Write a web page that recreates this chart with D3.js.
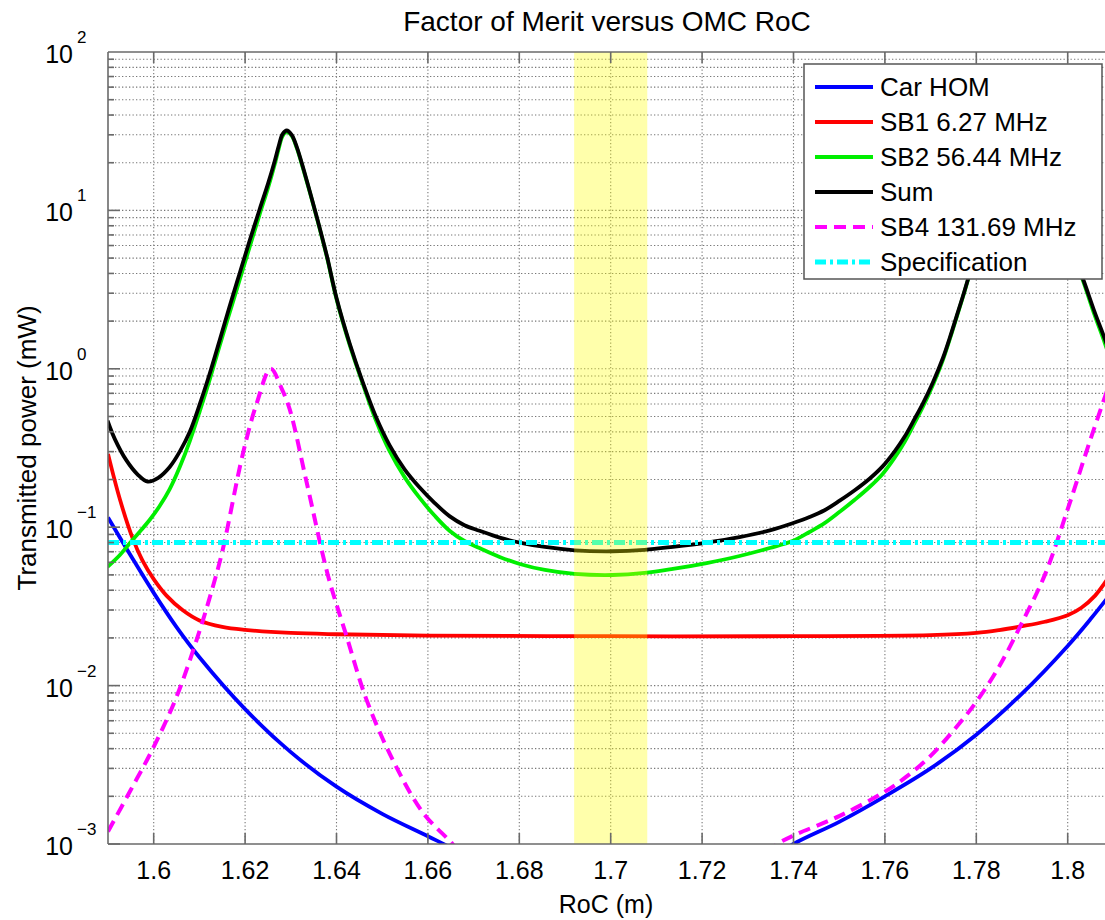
<!DOCTYPE html>
<html>
<head>
<meta charset="utf-8">
<script src="https://cdn.jsdelivr.net/npm/d3@7"></script>
<style>
  body { margin: 0; background: #fff; }
  text { font-family: "Liberation Sans", Arial, Helvetica, sans-serif; fill: #000; }
</style>
</head>
<body>
<div id="chart"></div>
<script>
// values: [RoC (m), transmitted power (mW)]
var carHom = [
  [1.59, 0.115], [1.595, 0.066], [1.60, 0.0385], [1.605, 0.0234], [1.61, 0.0151],
  [1.62, 0.0071], [1.63, 0.0038], [1.64, 0.0023], [1.65, 0.00155], [1.66, 0.00112],
  [1.665, 0.00095], [1.68, 0.0006], [1.70, 0.0004], [1.72, 0.0005], [1.735, 0.0008],
  [1.74, 0.001], [1.75, 0.00138], [1.76, 0.0020], [1.77, 0.0030], [1.78, 0.0049],
  [1.79, 0.0089], [1.80, 0.0178], [1.805, 0.0263], [1.81, 0.040]
];
var sb1 = [
  [1.59, 0.29], [1.5926, 0.15], [1.5954, 0.085], [1.5975, 0.062], [1.60, 0.047],
  [1.6028, 0.037], [1.6063, 0.030], [1.61, 0.0258], [1.615, 0.0235], [1.62, 0.0225],
  [1.63, 0.0215], [1.64, 0.0211], [1.66, 0.0207], [1.70, 0.0205], [1.74, 0.0205],
  [1.77, 0.0208], [1.78, 0.0215], [1.785, 0.0224], [1.79, 0.0237], [1.795, 0.0253],
  [1.80, 0.0278], [1.803, 0.031], [1.806, 0.037], [1.808, 0.044], [1.81, 0.054]
];
var sb2 = [
  [1.5899, 0.0561], [1.5926, 0.0667], [1.5948, 0.0795], [1.5969, 0.0933], [1.5991, 0.111],
  [1.6013, 0.136], [1.6035, 0.174], [1.6057, 0.240], [1.6079, 0.350], [1.6101, 0.542],
  [1.6123, 0.863], [1.6144, 1.39], [1.6166, 2.25], [1.6188, 3.64], [1.621, 5.87],
  [1.6232, 9.48], [1.625, 13.8], [1.6265, 19.6], [1.6274, 24.8], [1.6282, 29.5],
  [1.6291, 31.3], [1.6302, 29.5], [1.6313, 24.8], [1.6324, 19.6], [1.6341, 13.2],
  [1.6357, 8.96], [1.6379, 5.08], [1.64, 2.76], [1.6429, 1.41], [1.6457, 0.813],
  [1.6486, 0.475], [1.6516, 0.303], [1.6549, 0.207], [1.6582, 0.153], [1.6615, 0.118],
  [1.6648, 0.0946], [1.668, 0.0818], [1.6713, 0.0739], [1.6757, 0.0649], [1.6801, 0.0586],
  [1.6856, 0.0537], [1.6921, 0.0507], [1.7004, 0.0499], [1.7074, 0.0514], [1.7136, 0.0545],
  [1.721, 0.0594], [1.7282, 0.0658], [1.7348, 0.0739], [1.7398, 0.0818], [1.7435, 0.0933],
  [1.7468, 0.106], [1.7501, 0.125], [1.7534, 0.149], [1.7567, 0.180], [1.7595, 0.217],
  [1.7621, 0.274], [1.7643, 0.345], [1.7665, 0.455], [1.7683, 0.574], [1.7705, 0.791],
  [1.7727, 1.14], [1.7742, 1.54], [1.7757, 2.12], [1.777, 2.80], [1.7781, 3.58],
  [1.7807, 6.5], [1.7851, 15.6], [1.7886, 24], [1.7906, 27.8], [1.7928, 24],
  [1.7961, 15.6], [1.80, 6.5], [1.8033, 3.63], [1.8059, 2.18], [1.8081, 1.46], [1.8101, 0.98]
];
var sum = [
  [1.5899, 0.47], [1.5915, 0.36], [1.594, 0.265], [1.5965, 0.215], [1.5987, 0.194],
  [1.601, 0.205], [1.6035, 0.24], [1.6057, 0.30], [1.6079, 0.40], [1.6101, 0.60],
  [1.6123, 0.94], [1.6144, 1.5], [1.6166, 2.47], [1.6188, 4.0], [1.621, 6.45],
  [1.6232, 10.2], [1.625, 14.7], [1.6265, 20.6], [1.6274, 25.8], [1.6282, 30.3],
  [1.6291, 31.95], [1.6302, 30.0], [1.6313, 25.2], [1.6324, 19.9], [1.6341, 13.35],
  [1.6357, 9.06], [1.6379, 5.15], [1.64, 2.8], [1.6429, 1.44], [1.6457, 0.83],
  [1.6486, 0.50], [1.6516, 0.33], [1.6549, 0.232], [1.6582, 0.178], [1.6615, 0.142],
  [1.6648, 0.117], [1.668, 0.103], [1.6713, 0.095], [1.6757, 0.086], [1.6801, 0.080],
  [1.6856, 0.075], [1.6921, 0.0715], [1.7004, 0.0705], [1.7074, 0.072], [1.7136, 0.0752],
  [1.721, 0.080], [1.7282, 0.0866], [1.7348, 0.0955], [1.7398, 0.106], [1.7435, 0.116],
  [1.7468, 0.128], [1.7501, 0.147], [1.7534, 0.171], [1.7567, 0.203], [1.7595, 0.242],
  [1.7621, 0.30], [1.7643, 0.372], [1.7665, 0.483], [1.7683, 0.603], [1.7705, 0.82],
  [1.7727, 1.17], [1.7742, 1.57], [1.7757, 2.15], [1.777, 2.83], [1.7781, 3.61],
  [1.7807, 6.5], [1.7851, 15.6], [1.7886, 24], [1.7906, 27.8], [1.7928, 24],
  [1.7961, 15.6], [1.80, 6.6], [1.8033, 3.73], [1.8059, 2.28], [1.8081, 1.55], [1.8101, 1.07]
];
var sb4 = [
  [1.59, 0.0012], [1.595, 0.0022], [1.60, 0.0041], [1.605, 0.0085], [1.61, 0.022],
  [1.6125, 0.038], [1.615, 0.07], [1.6195, 0.29], [1.6225, 0.6], [1.6256, 1.0],
  [1.628, 0.75], [1.6298, 0.55], [1.6335, 0.19], [1.6381, 0.05], [1.6422, 0.0205],
  [1.6466, 0.0081], [1.6523, 0.0034], [1.6589, 0.00158], [1.6654, 0.001], [1.67, 0.0007],
  [1.70, 0.0003], [1.73, 0.0007], [1.7365, 0.001], [1.7403, 0.00114], [1.75, 0.0015],
  [1.76, 0.00214], [1.765, 0.0027], [1.77, 0.0036], [1.775, 0.0052], [1.78, 0.0079],
  [1.785, 0.0132], [1.79, 0.025], [1.795, 0.050], [1.80, 0.13], [1.805, 0.36], [1.81, 0.95]
];
var specLevel = 0.08;
var specRange = [1.59, 1.81];
var band = [1.692, 1.708];

var xTicks = [1.6, 1.62, 1.64, 1.66, 1.68, 1.7, 1.72, 1.74, 1.76, 1.78, 1.8];
var xTickLabels = ["1.6", "1.62", "1.64", "1.66", "1.68", "1.7", "1.72", "1.74", "1.76", "1.78", "1.8"];
var yExponents = [-3, -2, -1, 0, 1, 2];

var legendNames = ["Car HOM", "SB1 6.27 MHz", "SB2 56.44 MHz", "Sum", "SB4 131.69 MHz", "Specification"];

// draw order follows the legend
var series = [
  { name: legendNames[0], data: carHom, color: "#0000ff", dash: null, width: 3.8 },
  { name: legendNames[1], data: sb1, color: "#ff0000", dash: null, width: 3.8 },
  { name: legendNames[2], data: sb2, color: "#00ee00", dash: null, width: 3.8 },
  { name: legendNames[3], data: sum, color: "#000000", dash: null, width: 3.8 },
  { name: legendNames[4], data: sb4, color: "#ff00ff", dash: "12,7", width: 4 },
  { name: legendNames[5], data: specRange.map(function(r) { return [r, specLevel]; }),
    color: "#00ffff", dash: "11,4,3,4", width: 5 }
];

// plot box in pixels (right edge falls outside the picture, as in the reference)
var W = 1105, H = 920;
var box = { left: 108, right: 1113.4, top: 52, bottom: 844 };
var axisColor = "#6a6a6a";

var svg = d3.select("#chart").append("svg")
  .attr("width", W)
  .attr("height", H);

var x = d3.scaleLinear().domain([1.59, 1.81]).range([box.left, box.right]);
var y = d3.scaleLog().domain([1e-3, 1e2]).range([box.bottom, box.top]);

svg.append("defs").append("clipPath").attr("id", "plot-clip")
  .append("rect")
  .attr("x", box.left).attr("y", box.top)
  .attr("width", box.right - box.left).attr("height", box.bottom - box.top);

// grid: x at major ticks, y at every minor tick
var minorY = [];
yExponents.forEach(function(e) {
  for (var k = 1; k < 10; k++) {
    if (e < 2) minorY.push(k * Math.pow(10, e));
  }
});

var grid = svg.append("g").attr("class", "grid")
  .attr("stroke", "#777")
  .attr("stroke-width", 1.1)
  .attr("stroke-dasharray", "1.3,2.2");

grid.selectAll("line.gx").data(xTicks).enter().append("line")
  .attr("x1", function(d) { return x(d); }).attr("x2", function(d) { return x(d); })
  .attr("y1", box.top).attr("y2", box.bottom);

grid.selectAll("line.gy").data(minorY.slice(1)).enter().append("line")
  .attr("x1", box.left).attr("x2", box.right)
  .attr("y1", function(d) { return y(d); }).attr("y2", function(d) { return y(d); });

// curves
var plot = svg.append("g").attr("clip-path", "url(#plot-clip)");

var line = d3.line()
  .x(function(d) { return x(d[0]); })
  .y(function(d) { return y(d[1]); })
  .curve(d3.curveCatmullRom.alpha(0.5));

series.forEach(function(s) {
  plot.append("path")
    .datum(s.data)
    .attr("d", line)
    .attr("fill", "none")
    .attr("stroke", s.color)
    .attr("stroke-width", s.width)
    .attr("stroke-dasharray", s.dash)
    .attr("stroke-linejoin", "round");
});

// highlighted RoC band, see-through on top of the curves
plot.append("rect")
  .attr("x", x(band[0]))
  .attr("width", x(band[1]) - x(band[0]))
  .attr("y", box.top)
  .attr("height", box.bottom - box.top)
  .attr("fill", "#ffff00")
  .attr("fill-opacity", 0.33);

// axes box and ticks
var axes = svg.append("g").attr("stroke", axisColor).attr("stroke-width", 1.6);

axes.append("line").attr("x1", box.left).attr("x2", W).attr("y1", box.bottom).attr("y2", box.bottom);
axes.append("line").attr("x1", box.left).attr("x2", W).attr("y1", box.top).attr("y2", box.top);
axes.append("line").attr("x1", box.left).attr("x2", box.left).attr("y1", box.top).attr("y2", box.bottom);

xTicks.forEach(function(t) {
  axes.append("line").attr("x1", x(t)).attr("x2", x(t)).attr("y1", box.bottom).attr("y2", box.bottom - 11);
  axes.append("line").attr("x1", x(t)).attr("x2", x(t)).attr("y1", box.top).attr("y2", box.top + 11);
});

minorY.forEach(function(v) {
  var major = Math.abs(Math.log10(v) - Math.round(Math.log10(v))) < 1e-9;
  axes.append("line")
    .attr("x1", box.left).attr("x2", box.left + (major ? 12 : 6))
    .attr("y1", y(v)).attr("y2", y(v));
});

// tick labels
svg.selectAll("text.xtick").data(xTicks).enter().append("text")
  .attr("class", "xtick")
  .attr("x", function(d) { return x(d); })
  .attr("y", 879)
  .attr("text-anchor", "middle")
  .attr("font-size", 25)
  .text(function(d, i) { return xTickLabels[i]; });

yExponents.forEach(function(e) {
  var yy = y(Math.pow(10, e));
  svg.append("text")
    .attr("x", 73).attr("y", yy + 11)
    .attr("text-anchor", "end")
    .attr("font-size", 25)
    .text("10");
  svg.append("text")
    .attr("x", 77).attr("y", yy - 9)
    .attr("font-size", 17)
    .text(e < 0 ? "\u2212" + (-e) : String(e));
});

// title and axis labels
svg.append("text")
  .attr("x", 607).attr("y", 31)
  .attr("text-anchor", "middle")
  .attr("font-size", 28)
  .text("Factor of Merit versus OMC RoC");

svg.append("text")
  .attr("x", 606).attr("y", 913)
  .attr("text-anchor", "middle")
  .attr("font-size", 25)
  .text("RoC (m)");

svg.append("text")
  .attr("transform", "translate(36," + ((box.top + box.bottom) / 2) + ") rotate(-90)")
  .attr("text-anchor", "middle")
  .attr("font-size", 26)
  .text("Transmitted power (mW)");

// legend
var lg = svg.append("g");
lg.append("rect")
  .attr("x", 804).attr("y", 64)
  .attr("width", 298).attr("height", 215)
  .attr("fill", "#fff")
  .attr("stroke", "#555")
  .attr("stroke-width", 1.5);

series.forEach(function(s, i) {
  var yy = 87 + i * 35;
  lg.append("line")
    .attr("x1", 815).attr("x2", 873)
    .attr("y1", yy).attr("y2", yy)
    .attr("stroke", s.color)
    .attr("stroke-width", s.width)
    .attr("stroke-dasharray", s.dash);
  lg.append("text")
    .attr("x", 880).attr("y", yy + 9)
    .attr("font-size", 26)
    .text(s.name);
});
</script>
</body>
</html>
